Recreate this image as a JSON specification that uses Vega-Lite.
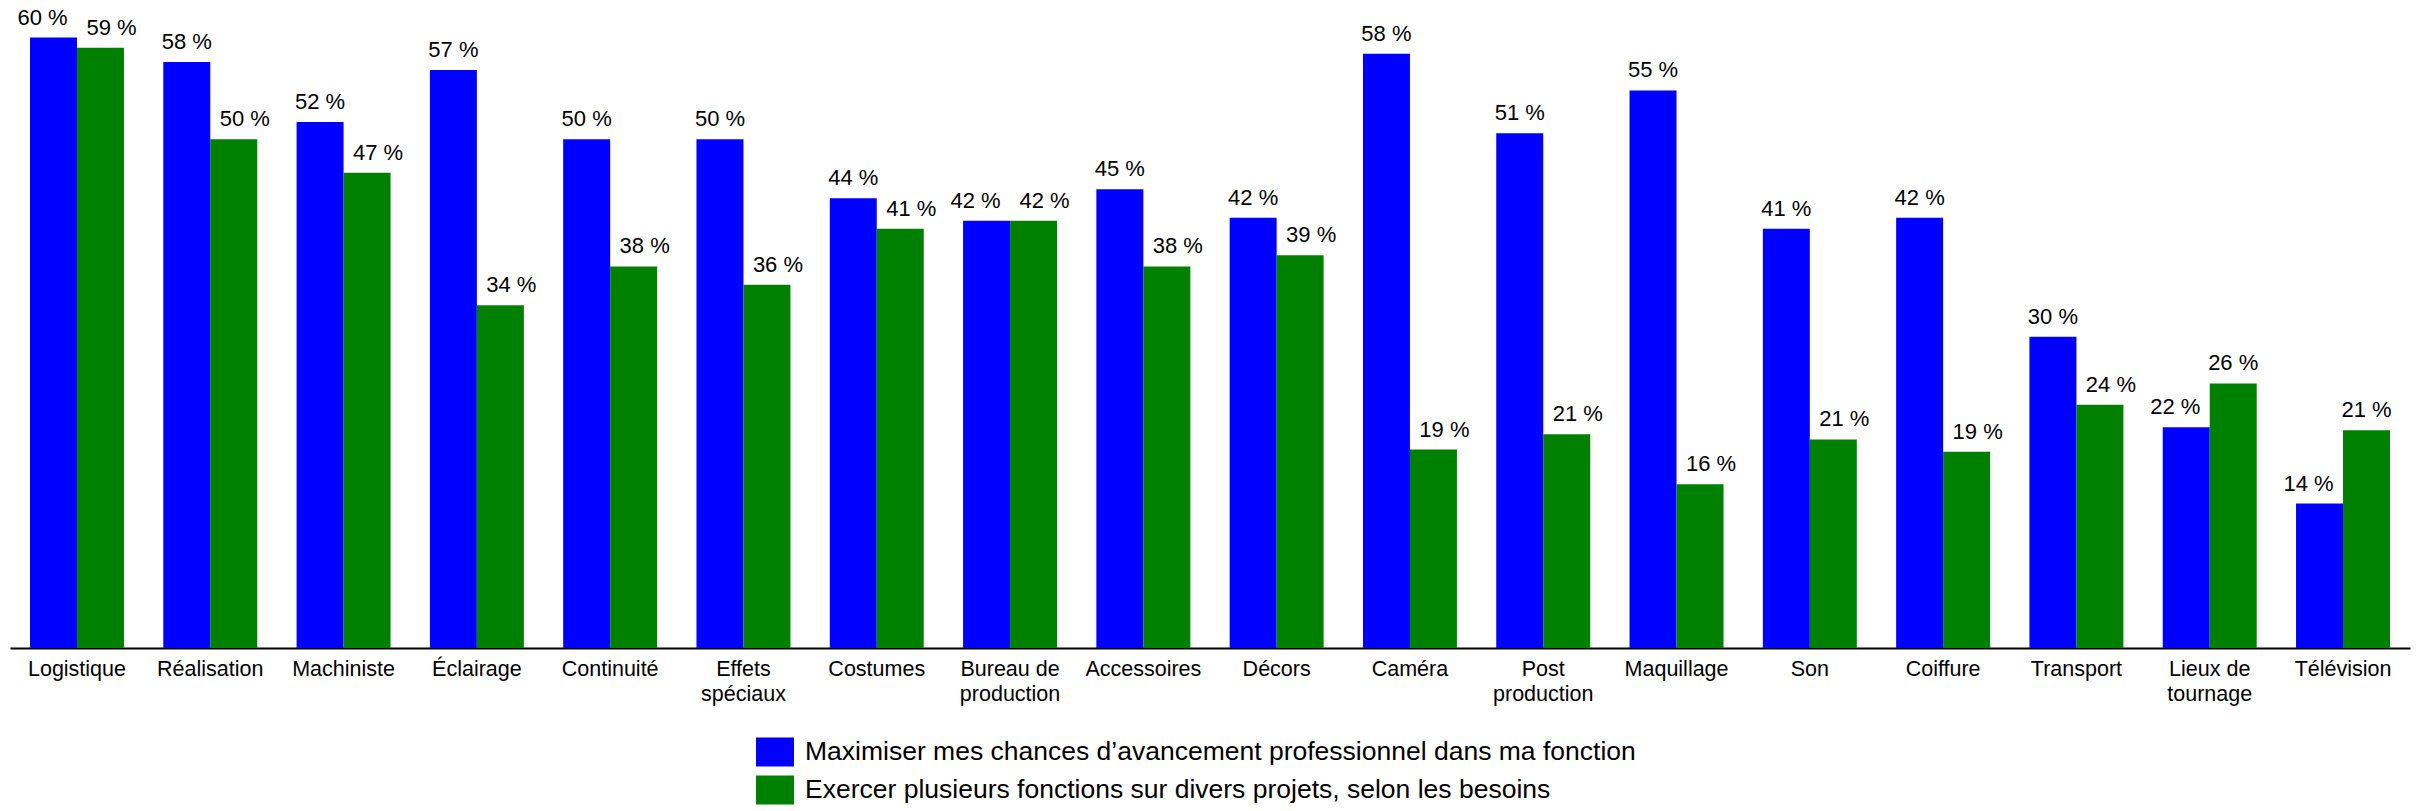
{
  "$schema": "https://vega.github.io/schema/vega-lite/v6.json",
  "width": 2400,
  "height": 648,
  "autosize": "none",
  "padding": {"left": 10, "top": 0, "right": 15, "bottom": 163},
  "config": {
    "view": {"stroke": null},
    "font": "Liberation Sans"
  },
  "data": {
    "values": [
      {"fonction": "Logistique", "serie": "Maximiser mes chances d’avancement professionnel dans ma fonction", "pct": 60.0, "label": "60 %"},
      {"fonction": "Logistique", "serie": "Exercer plusieurs fonctions sur divers projets, selon les besoins", "pct": 59.0, "label": "59 %"},
      {"fonction": "Réalisation", "serie": "Maximiser mes chances d’avancement professionnel dans ma fonction", "pct": 57.6, "label": "58 %"},
      {"fonction": "Réalisation", "serie": "Exercer plusieurs fonctions sur divers projets, selon les besoins", "pct": 50.0, "label": "50 %"},
      {"fonction": "Machiniste", "serie": "Maximiser mes chances d’avancement professionnel dans ma fonction", "pct": 51.7, "label": "52 %"},
      {"fonction": "Machiniste", "serie": "Exercer plusieurs fonctions sur divers projets, selon les besoins", "pct": 46.7, "label": "47 %"},
      {"fonction": "Éclairage", "serie": "Maximiser mes chances d’avancement professionnel dans ma fonction", "pct": 56.8, "label": "57 %"},
      {"fonction": "Éclairage", "serie": "Exercer plusieurs fonctions sur divers projets, selon les besoins", "pct": 33.7, "label": "34 %"},
      {"fonction": "Continuité", "serie": "Maximiser mes chances d’avancement professionnel dans ma fonction", "pct": 50.0, "label": "50 %"},
      {"fonction": "Continuité", "serie": "Exercer plusieurs fonctions sur divers projets, selon les besoins", "pct": 37.5, "label": "38 %"},
      {"fonction": "Effets spéciaux", "serie": "Maximiser mes chances d’avancement professionnel dans ma fonction", "pct": 50.0, "label": "50 %"},
      {"fonction": "Effets spéciaux", "serie": "Exercer plusieurs fonctions sur divers projets, selon les besoins", "pct": 35.7, "label": "36 %"},
      {"fonction": "Costumes", "serie": "Maximiser mes chances d’avancement professionnel dans ma fonction", "pct": 44.2, "label": "44 %"},
      {"fonction": "Costumes", "serie": "Exercer plusieurs fonctions sur divers projets, selon les besoins", "pct": 41.2, "label": "41 %"},
      {"fonction": "Bureau de production", "serie": "Maximiser mes chances d’avancement professionnel dans ma fonction", "pct": 42.0, "label": "42 %"},
      {"fonction": "Bureau de production", "serie": "Exercer plusieurs fonctions sur divers projets, selon les besoins", "pct": 42.0, "label": "42 %"},
      {"fonction": "Accessoires", "serie": "Maximiser mes chances d’avancement professionnel dans ma fonction", "pct": 45.1, "label": "45 %"},
      {"fonction": "Accessoires", "serie": "Exercer plusieurs fonctions sur divers projets, selon les besoins", "pct": 37.5, "label": "38 %"},
      {"fonction": "Décors", "serie": "Maximiser mes chances d’avancement professionnel dans ma fonction", "pct": 42.3, "label": "42 %"},
      {"fonction": "Décors", "serie": "Exercer plusieurs fonctions sur divers projets, selon les besoins", "pct": 38.6, "label": "39 %"},
      {"fonction": "Caméra", "serie": "Maximiser mes chances d’avancement professionnel dans ma fonction", "pct": 58.4, "label": "58 %"},
      {"fonction": "Caméra", "serie": "Exercer plusieurs fonctions sur divers projets, selon les besoins", "pct": 19.5, "label": "19 %"},
      {"fonction": "Post production", "serie": "Maximiser mes chances d’avancement professionnel dans ma fonction", "pct": 50.6, "label": "51 %"},
      {"fonction": "Post production", "serie": "Exercer plusieurs fonctions sur divers projets, selon les besoins", "pct": 21.0, "label": "21 %"},
      {"fonction": "Maquillage", "serie": "Maximiser mes chances d’avancement professionnel dans ma fonction", "pct": 54.8, "label": "55 %"},
      {"fonction": "Maquillage", "serie": "Exercer plusieurs fonctions sur divers projets, selon les besoins", "pct": 16.1, "label": "16 %"},
      {"fonction": "Son", "serie": "Maximiser mes chances d’avancement professionnel dans ma fonction", "pct": 41.2, "label": "41 %"},
      {"fonction": "Son", "serie": "Exercer plusieurs fonctions sur divers projets, selon les besoins", "pct": 20.5, "label": "21 %"},
      {"fonction": "Coiffure", "serie": "Maximiser mes chances d’avancement professionnel dans ma fonction", "pct": 42.3, "label": "42 %"},
      {"fonction": "Coiffure", "serie": "Exercer plusieurs fonctions sur divers projets, selon les besoins", "pct": 19.3, "label": "19 %"},
      {"fonction": "Transport", "serie": "Maximiser mes chances d’avancement professionnel dans ma fonction", "pct": 30.6, "label": "30 %"},
      {"fonction": "Transport", "serie": "Exercer plusieurs fonctions sur divers projets, selon les besoins", "pct": 23.9, "label": "24 %"},
      {"fonction": "Lieux de tournage", "serie": "Maximiser mes chances d’avancement professionnel dans ma fonction", "pct": 21.7, "label": "22 %"},
      {"fonction": "Lieux de tournage", "serie": "Exercer plusieurs fonctions sur divers projets, selon les besoins", "pct": 26.0, "label": "26 %"},
      {"fonction": "Télévision", "serie": "Maximiser mes chances d’avancement professionnel dans ma fonction", "pct": 14.2, "label": "14 %"},
      {"fonction": "Télévision", "serie": "Exercer plusieurs fonctions sur divers projets, selon les besoins", "pct": 21.4, "label": "21 %"}
    ]
  },
  "transform": [
    {"joinaggregate": [{"op": "max", "field": "pct", "as": "maxp"}, {"op": "min", "field": "pct", "as": "minp"}], "groupby": ["fonction"]}
  ],
  "encoding": {
    "x": {
      "field": "fonction",
      "type": "nominal",
      "sort": null,
      "scale": {"paddingInner": 0.295, "paddingOuter": 0.15},
      "axis": {
        "title": null,
        "labelAngle": 0,
        "labelFontSize": 21.5,
        "labelColor": "black",
        "labelPadding": 10,
        "labelLineHeight": 25,
        "labelLimit": 300,
        "ticks": false,
        "domainColor": "black",
        "domainWidth": 2,
        "labelExpr": "indexof(datum.label, ' ') >= 0 ? [substring(datum.label, 0, lastindexof(datum.label, ' ')), substring(datum.label, lastindexof(datum.label, ' ') + 1)] : datum.label"
      }
    },
    "xOffset": {
      "field": "serie",
      "type": "nominal",
      "sort": ["Maximiser mes chances d’avancement professionnel dans ma fonction", "Exercer plusieurs fonctions sur divers projets, selon les besoins"],
      "scale": {"paddingInner": 0, "paddingOuter": 0}
    },
    "y": {
      "field": "pct",
      "type": "quantitative",
      "scale": {"domain": [0, 63.69], "nice": false, "zero": true},
      "axis": null
    }
  },
  "layer": [
    {
      "mark": {"type": "bar"},
      "encoding": {
        "color": {
          "field": "serie",
          "type": "nominal",
          "scale": {
            "domain": ["Maximiser mes chances d’avancement professionnel dans ma fonction", "Exercer plusieurs fonctions sur divers projets, selon les besoins"],
            "range": ["#0000FF", "#008000"]
          },
          "legend": {
            "title": null,
            "orient": "none",
            "legendX": 746,
            "legendY": 733,
            "direction": "vertical",
            "padding": 0,
            "symbolType": "M-1,-0.763H1V0.763H-1Z",
            "symbolSize": 1444,
            "symbolStrokeWidth": 0,
            "symbolOpacity": 1,
            "labelFontSize": 26.5,
            "labelColor": "black",
            "labelOffset": 11,
            "labelLimit": 2000,
            "rowPadding": 4
          }
        }
      }
    },
    {
      "transform": [{"filter": "datum.pct == datum.maxp && datum.maxp - datum.minp >= 2"}],
      "mark": {"type": "text", "fontSize": 22, "color": "black", "baseline": "alphabetic", "dy": -13},
      "encoding": {
        "text": {"field": "label", "type": "nominal"}
      }
    },
    {
      "transform": [{"filter": "!(datum.pct == datum.maxp && datum.maxp - datum.minp >= 2) && indexof(datum.serie, 'Maximiser') == 0"}],
      "mark": {"type": "text", "fontSize": 22, "color": "black", "baseline": "alphabetic", "dy": -13, "dx": -11},
      "encoding": {
        "text": {"field": "label", "type": "nominal"}
      }
    },
    {
      "transform": [{"filter": "!(datum.pct == datum.maxp && datum.maxp - datum.minp >= 2) && indexof(datum.serie, 'Exercer') == 0"}],
      "mark": {"type": "text", "fontSize": 22, "color": "black", "baseline": "alphabetic", "dy": -13, "dx": 11},
      "encoding": {
        "text": {"field": "label", "type": "nominal"}
      }
    }
  ]
}
